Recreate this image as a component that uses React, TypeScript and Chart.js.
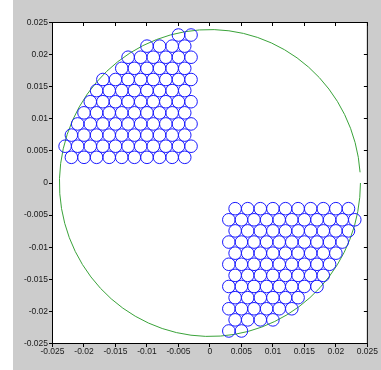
import { useEffect, useRef } from 'react';
import { Chart, registerables } from 'chart.js';

Chart.register(...registerables);

// Axis ticks
const tickValues = [-0.025, -0.02, -0.015, -0.01, -0.005, 0, 0.005, 0.01, 0.015, 0.02, 0.025];
const tickLabels = ['-0.025', '-0.02', '-0.015', '-0.01', '-0.005', '0', '0.005', '0.01', '0.015', '0.02', '0.025'];

// Boundary (green) circle
const boundaryCenter = { x: 0, y: 0 };
const boundaryRadius = 0.0239;
const boundaryGapDeg = [0, 4];

// Packed (blue) circles
const packRadius = 0.001;

const upperRowsY = [0.004, 0.00573, 0.00746, 0.0092, 0.01093, 0.01266, 0.01439, 0.01612, 0.01786, 0.01959, 0.02132, 0.02305];
const upperRowsX = [
  [-0.004, -0.006, -0.008, -0.01, -0.012, -0.014, -0.016, -0.018, -0.02, -0.022],
  [-0.003, -0.005, -0.007, -0.009, -0.011, -0.013, -0.015, -0.017, -0.019, -0.021, -0.023],
  [-0.004, -0.006, -0.008, -0.01, -0.012, -0.014, -0.016, -0.018, -0.02, -0.022],
  [-0.003, -0.005, -0.007, -0.009, -0.011, -0.013, -0.015, -0.017, -0.019, -0.021],
  [-0.004, -0.006, -0.008, -0.01, -0.012, -0.014, -0.016, -0.018, -0.02],
  [-0.003, -0.005, -0.007, -0.009, -0.011, -0.013, -0.015, -0.017, -0.019],
  [-0.004, -0.006, -0.008, -0.01, -0.012, -0.014, -0.016, -0.018],
  [-0.003, -0.005, -0.007, -0.009, -0.011, -0.013, -0.015, -0.017],
  [-0.004, -0.006, -0.008, -0.01, -0.012, -0.014],
  [-0.003, -0.005, -0.007, -0.009, -0.011, -0.013],
  [-0.004, -0.006, -0.008, -0.01],
  [-0.003, -0.005],
];

const lowerRowsY = [-0.004, -0.00573, -0.00746, -0.0092, -0.01093, -0.01266, -0.01439, -0.01612, -0.01786, -0.01959, -0.02132, -0.02305];
const lowerRowsX = [
  [0.004, 0.006, 0.008, 0.01, 0.012, 0.014, 0.016, 0.018, 0.02, 0.022],
  [0.003, 0.005, 0.007, 0.009, 0.011, 0.013, 0.015, 0.017, 0.019, 0.021, 0.023],
  [0.004, 0.006, 0.008, 0.01, 0.012, 0.014, 0.016, 0.018, 0.02, 0.022],
  [0.003, 0.005, 0.007, 0.009, 0.011, 0.013, 0.015, 0.017, 0.019, 0.021],
  [0.004, 0.006, 0.008, 0.01, 0.012, 0.014, 0.016, 0.018, 0.02],
  [0.003, 0.005, 0.007, 0.009, 0.011, 0.013, 0.015, 0.017, 0.019],
  [0.004, 0.006, 0.008, 0.01, 0.012, 0.014, 0.016, 0.018],
  [0.003, 0.005, 0.007, 0.009, 0.011, 0.013, 0.015, 0.017],
  [0.004, 0.006, 0.008, 0.01, 0.012, 0.014],
  [0.003, 0.005, 0.007, 0.009, 0.011, 0.013],
  [0.004, 0.006, 0.008, 0.01],
  [0.003, 0.005],
];

const FONT = { family: '"Liberation Sans", Arial, sans-serif', size: 8.5 };
const TEXT_COLOR = '#1a1a1a';
const BLUE = '#1a1aff';
const GREEN = '#3aa33a';

function toPoints(rowsY: number[], rowsX: number[][]) {
  const pts: { x: number; y: number }[] = [];
  rowsX.forEach((xs, i) => xs.forEach((x) => pts.push({ x, y: rowsY[i] })));
  return pts;
}

const matlabAxes = {
  id: 'matlabAxes',
  beforeDraw(chart: any) {
    const { ctx, chartArea: a } = chart;
    ctx.save();
    ctx.fillStyle = '#ffffff';
    ctx.fillRect(a.left, a.top, a.right - a.left, a.bottom - a.top);
    ctx.restore();
  },
  beforeDatasetsDraw(chart: any) {
    const { ctx, scales } = chart;
    const xs = scales.x;
    const ys = scales.y;
    const cx = xs.getPixelForValue(boundaryCenter.x);
    const cy = ys.getPixelForValue(boundaryCenter.y);
    const rx = Math.abs(xs.getPixelForValue(boundaryCenter.x + boundaryRadius) - cx);
    const ry = Math.abs(ys.getPixelForValue(boundaryCenter.y + boundaryRadius) - cy);
    const a0 = (-boundaryGapDeg[1] * Math.PI) / 180;
    const a1 = (-(360 + boundaryGapDeg[0]) * Math.PI) / 180;
    ctx.save();
    ctx.strokeStyle = GREEN;
    ctx.lineWidth = 1;
    ctx.beginPath();
    ctx.ellipse(cx, cy, rx, ry, 0, a0, a1, true);
    ctx.stroke();
    ctx.restore();
  },
  afterDraw(chart: any) {
    const { ctx, chartArea: a, scales } = chart;
    ctx.save();
    ctx.strokeStyle = '#000000';
    ctx.lineWidth = 1;
    ctx.strokeRect(a.left, a.top, a.right - a.left, a.bottom - a.top);
    ctx.beginPath();
    const tl = 3.5;
    tickValues.forEach((v) => {
      const px = Math.round(scales.x.getPixelForValue(v) - 0.5) + 0.5;
      const py = Math.round(scales.y.getPixelForValue(v) - 0.5) + 0.5;
      // bottom (outward)
      ctx.moveTo(px, a.bottom);
      ctx.lineTo(px, a.bottom + tl);
      // top (inward)
      ctx.moveTo(px, a.top);
      ctx.lineTo(px, a.top + tl);
      // left (outward)
      ctx.moveTo(a.left, py);
      ctx.lineTo(a.left - tl, py);
      // right (inward)
      ctx.moveTo(a.right, py);
      ctx.lineTo(a.right - tl, py);
    });
    ctx.stroke();
    ctx.restore();
  },
};

export default function App() {
  const ref = useRef<HTMLCanvasElement | null>(null);

  useEffect(() => {
    if (!ref.current) return;
    const radiusFn = (c: any) => {
      const s = c.chart.scales?.x;
      if (!s) return 6.4;
      return Math.abs(s.getPixelForValue(packRadius) - s.getPixelForValue(0));
    };
    const axisCommon = (isX: boolean) => ({
      type: 'linear' as const,
      position: isX ? ('bottom' as const) : ('left' as const),
      min: -0.025,
      max: 0.025,
      grid: { display: false, drawTicks: false },
      border: { display: false },
      ticks: {
        autoSkip: false,
        maxRotation: 0,
        minRotation: 0,
        padding: isX ? 3 : 4.5,
        color: TEXT_COLOR,
        font: FONT,
        callback: (_v: any, i: number) => tickLabels[i],
      },
      afterBuildTicks: (s: any) => {
        s.ticks = tickValues.map((v) => ({ value: v }));
      },
      afterFit: (s: any) => {
        if (isX) s.height = 26.5;
        else s.width = 52.5;
      },
    });

    const chart = new Chart(ref.current, {
      type: 'scatter',
      data: {
        datasets: [
          {
            label: 'upper',
            data: toPoints(upperRowsY, upperRowsX),
            pointStyle: 'circle',
            pointRadius: radiusFn,
            pointBorderWidth: 1,
            pointBorderColor: BLUE,
            pointBackgroundColor: 'rgba(0,0,0,0)',
            showLine: false,
          },
          {
            label: 'lower',
            data: toPoints(lowerRowsY, lowerRowsX),
            pointStyle: 'circle',
            pointRadius: radiusFn,
            pointBorderWidth: 1,
            pointBorderColor: BLUE,
            pointBackgroundColor: 'rgba(0,0,0,0)',
            showLine: false,
          },
        ],
      },
      options: {
        animation: false,
        responsive: false,
        events: [],
        layout: { padding: { left: 0, top: 22.5, right: 9.5, bottom: 0 } },
        plugins: {
          legend: { display: false },
          tooltip: { enabled: false },
        },
        scales: {
          x: axisCommon(true),
          y: axisCommon(false),
        },
      },
      plugins: [matlabAxes],
    } as any);
    return () => chart.destroy();
  }, []);

  return (
    <div style={{ position: 'fixed', left: 0, top: 0, width: 381, height: 370, background: '#ffffff' }}>
      <div style={{ position: 'absolute', left: 13, top: 0, width: 368, height: 370, background: '#cccccc' }} />
      <canvas
        ref={ref}
        width={381}
        height={370}
        style={{ position: 'absolute', left: 0, top: 0, width: 381, height: 370 }}
      />
    </div>
  );
}
